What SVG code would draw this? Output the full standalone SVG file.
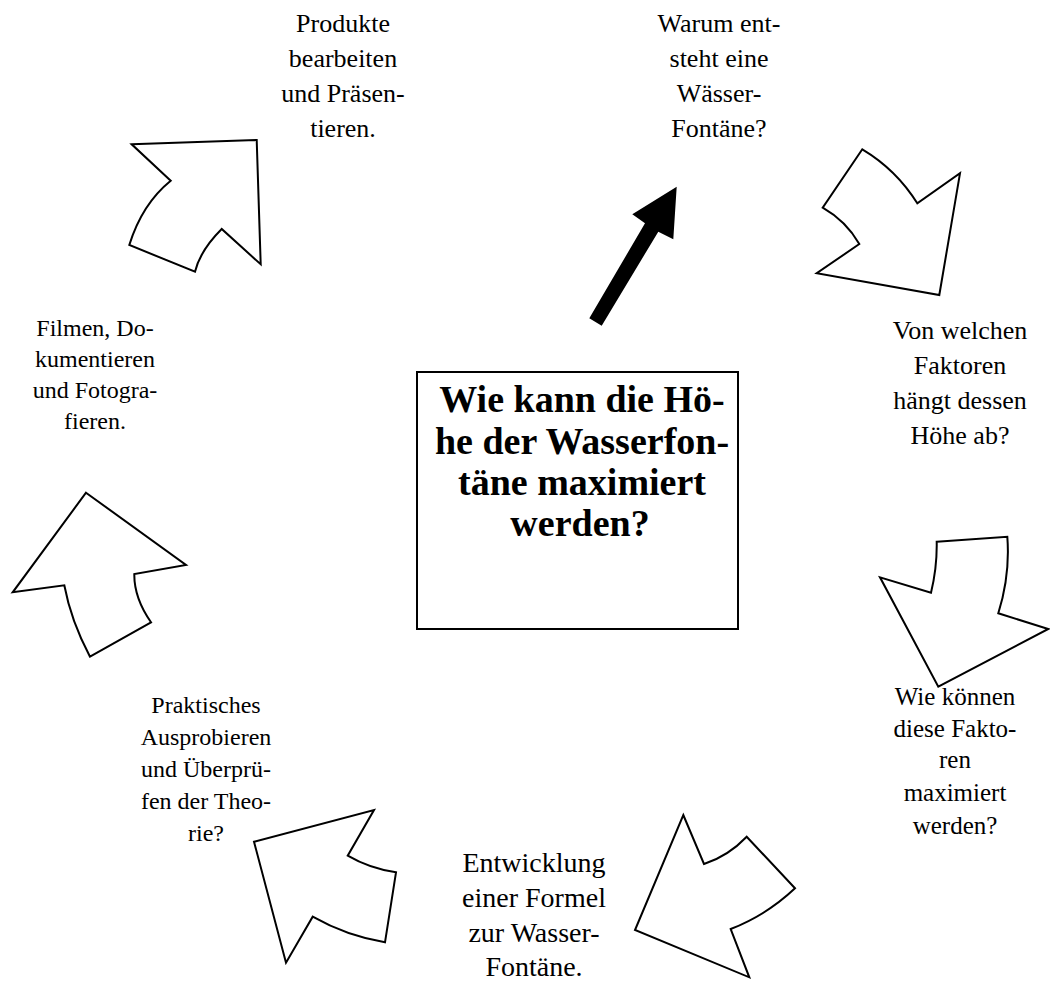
<svg xmlns="http://www.w3.org/2000/svg" width="1050" height="981" viewBox="0 0 1050 981">
<style>
.arr{fill:#fff;stroke:#000;stroke-width:2;stroke-linejoin:miter}
.t{font-family:"Liberation Serif","Times New Roman",serif;fill:#000;text-anchor:middle}
.big{font-size:28px}
.mid{font-size:26px}
.m25{font-size:25px}
.sm{font-size:24px}
.title{font-size:38px;font-weight:bold}
</style>
<rect width="1050" height="981" fill="#fff"/>
<g id="connectors">
<path class="arr" d="M131.7,144.3 L256.7,140 L260.7,264.3 L221.7,229 Q200.3,250.3 195,271.7 L129.3,245 Q142,204 170.7,180.7 Z"/>
<path class="arr" d="M862.3,149.3 Q896.4,169.7 917.3,203.3 L960,173.3 L939.3,295 L816.7,273.3 L859.3,244 Q846,221 822.7,207.7 Z"/>
<path class="arr" d="M936.7,541.7 L1007.3,536.7 Q1010.3,575 998.3,613.3 L1048.3,629 L938.3,686.7 L880,577.3 L931,592.7 Q937.2,567.2 936.7,541.7 Z"/>
<path class="arr" d="M683.3,815 L704,864 Q728.3,856 746.7,836.7 L795,888.3 Q766.7,915 730.7,929 L749.3,977.3 L635,930 Z"/>
<path class="arr" d="M254,841.7 L374,810 L347.7,855.7 Q370,868.7 396,872.3 L385,942.3 Q346.7,936 312.7,916.7 L286,962.7 Z"/>
<path class="arr" d="M86,492.7 L186,565 L134.3,574 Q134,598 151,622.3 L90,656.7 Q71,621 64.3,585.3 L12.7,592.3 Z"/>
<polygon points="676.7,186.7 673.3,239.3 658.3,231.7 601.7,325.7 589.3,318.3 645,223.3 632.3,214.3" fill="#000"/>
</g>
<g id="center">
<rect x="417" y="372" width="321" height="257" fill="#fff" stroke="#000" stroke-width="2"/>
<text class="t title"><tspan x="582" y="412">Wie kann die Hö-</tspan><tspan x="582" y="454">he der Wasserfon-</tspan><tspan x="582" y="495">täne maximiert</tspan><tspan x="580" y="536">werden?</tspan></text>
</g>
<g id="n-produkte">
<text class="t mid"><tspan x="343" y="32">Produkte</tspan><tspan x="343" y="67">bearbeiten</tspan><tspan x="343" y="102">und Präsen-</tspan><tspan x="343" y="137">tieren.</tspan></text>
</g>
<g id="n-warum">
<text class="t mid"><tspan x="719" y="32">Warum ent-</tspan><tspan x="719" y="67">steht eine</tspan><tspan x="719" y="102">Wässer-</tspan><tspan x="719" y="137">Fontäne?</tspan></text>
</g>
<g id="n-faktoren">
<text class="t mid"><tspan x="960" y="339">Von welchen</tspan><tspan x="960" y="374">Faktoren</tspan><tspan x="960" y="409">hängt dessen</tspan><tspan x="960" y="444">Höhe ab?</tspan></text>
</g>
<g id="n-filmen">
<text class="t sm"><tspan x="95" y="336">Filmen, Do-</tspan><tspan x="95" y="367">kumentieren</tspan><tspan x="95" y="398">und Fotogra-</tspan><tspan x="95" y="429">fieren.</tspan></text>
</g>
<g id="n-maximiert">
<text class="t m25"><tspan x="955" y="705">Wie können</tspan><tspan x="955" y="737">diese Fakto-</tspan><tspan x="955" y="768">ren</tspan><tspan x="955" y="801">maximiert</tspan><tspan x="955" y="834">werden?</tspan></text>
</g>
<g id="n-praktisch">
<text class="t sm"><tspan x="206" y="713">Praktisches</tspan><tspan x="206" y="745">Ausprobieren</tspan><tspan x="206" y="777">und Überprü-</tspan><tspan x="206" y="809">fen der Theo-</tspan><tspan x="206" y="841">rie?</tspan></text>
</g>
<g id="n-formel">
<text class="t big"><tspan x="534" y="872">Entwicklung</tspan><tspan x="534" y="907">einer Formel</tspan><tspan x="534" y="942">zur Wasser-</tspan><tspan x="534" y="976">Fontäne.</tspan></text>
</g>
</svg>
